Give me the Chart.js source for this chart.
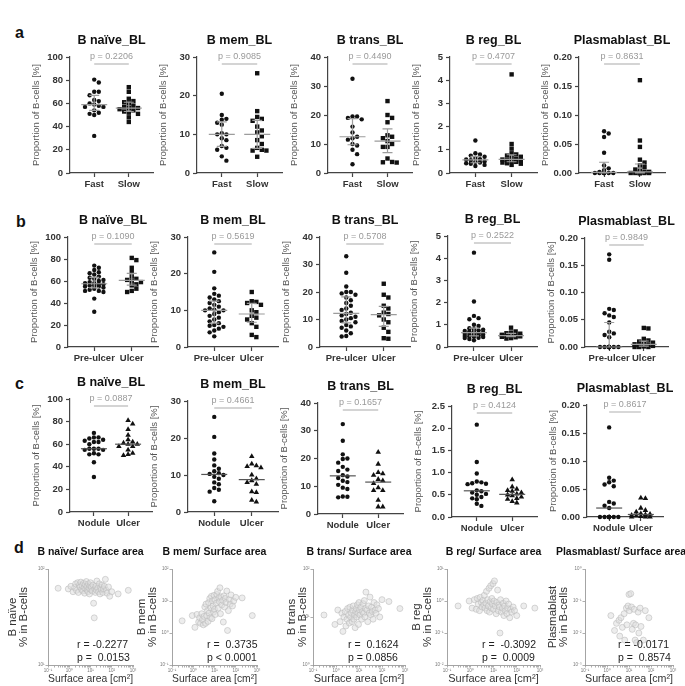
<!DOCTYPE html>
<html>
<head>
<meta charset="utf-8">
<script src="https://cdn.jsdelivr.net/npm/chart.js@4.4.1/dist/chart.umd.min.js"></script>
<style>
  body { margin: 0; width: 685px; height: 686px; background: #fff; position: relative; overflow: hidden; }
  canvas { position: absolute; }
  .tag { position: absolute; font: bold 16px "Liberation Sans", Arial, sans-serif; line-height: 16px; color: #111; }
</style>
</head>
<body>
<div class="tag" style="left:15px;top:25px">a</div>
<div class="tag" style="left:16px;top:214px">b</div>
<div class="tag" style="left:15px;top:376px">c</div>
<div class="tag" style="left:14px;top:540px">d</div>
<script>
// ---- data: rows a-c (proportion of B-cells, %) ----
const catsA = ["Fast", "Slow"];
const catsB = ["Pre-ulcer", "Ulcer"];
const catsC = ["Nodule", "Ulcer"];
const panelTitles = ["B naïve_BL", "B mem_BL", "B trans_BL", "B reg_BL", "Plasmablast_BL"];

const aNaiveFast = [80.5, 78, 70, 70, 67, 63, 62, 60, 59, 58, 57, 57, 54, 52, 51, 50, 32];
const aNaiveSlow = [74, 70, 64, 62, 61, 60, 58, 57, 56, 56, 55, 54, 53, 52, 51, 48, 44];
const aMemFast = [20.5, 15, 14, 13.8, 13, 12.5, 10.3, 10, 10, 9, 8.5, 7, 6.5, 6, 4.3, 3.2];
const aMemSlow = [25.8, 16, 14.5, 14, 13.5, 12, 11, 10.5, 9.5, 8.5, 7.5, 6.5, 6, 5.8, 5.8, 4.2];
const aTransFast = [32.5, 19.5, 19.5, 19, 18.5, 16, 14, 12.5, 12, 11.5, 10, 9.5, 8, 6.5, 3];
const aTransSlow = [24.8, 20, 19, 17.5, 13, 12.5, 12, 11, 10, 9, 9, 5, 3.8, 3.7, 3.6];
const aRegFast = [1.4, 0.85, 0.8, 0.75, 0.7, 0.65, 0.6, 0.58, 0.55, 0.5, 0.48, 0.45, 0.42, 0.4, 0.35, 0.3];
const aRegSlow = [4.25, 1.25, 1.05, 0.85, 0.8, 0.75, 0.7, 0.65, 0.6, 0.58, 0.55, 0.55, 0.5, 0.48, 0.45, 0.42, 0.4, 0.35];
const aPlasmaFast = [0.072, 0.068, 0.062, 0.035, 0.013, 0.008, 0.005, 0.002, 0, 0, 0, 0, 0, 0, 0, 0];
const aPlasmaSlow = [0.16, 0.056, 0.045, 0.023, 0.018, 0.013, 0.01, 0.006, 0.004, 0.002, 0.002, 0, 0, 0, 0, 0, 0, 0, 0];

const bNaivePre = [74, 72, 70, 68, 67, 66, 64, 63, 62, 61, 60, 59, 58, 58, 57, 57, 56, 56, 55, 55, 54, 53, 52, 51, 51, 50, 44, 32];
const bNaiveUlcer = [81, 79, 72, 68, 64, 62, 61, 60, 59, 57, 56, 53, 51, 50];
const bMemPre = [25.8, 20.5, 16, 14.5, 14, 13.5, 13, 12.5, 12, 11.5, 11, 10.5, 10.2, 10, 10, 9.5, 9, 8.5, 8, 7.5, 7, 6.5, 6, 5.8, 5.5, 5, 4.5, 4, 2.9];
const bMemUlcer = [15, 12.5, 12.3, 12, 11.5, 10, 9.5, 8.5, 8, 7.5, 6.5, 5.5, 3.3, 2.7];
const bTransPre = [33, 27, 22, 20, 20, 19.5, 19, 18, 17, 16, 15, 14, 13.5, 12.5, 12, 11.5, 11, 10.5, 10, 9.5, 9, 8, 7.5, 7, 6, 5, 4, 3.8];
const bTransUlcer = [23, 19, 18, 15, 14, 12.5, 12, 11.5, 10, 9, 7, 5.5, 3.2, 3];
const bRegPre = [4.25, 2.05, 1.4, 1.3, 1.25, 1.0, 0.95, 0.85, 0.8, 0.78, 0.75, 0.72, 0.7, 0.68, 0.65, 0.62, 0.6, 0.58, 0.56, 0.55, 0.53, 0.5, 0.48, 0.46, 0.45, 0.42, 0.4, 0.36, 0.3];
const bRegUlcer = [0.87, 0.7, 0.65, 0.62, 0.6, 0.55, 0.52, 0.5, 0.5, 0.48, 0.46, 0.44, 0.4, 0.38];
const bPlasmaPre = [0.17, 0.16, 0.07, 0.068, 0.062, 0.058, 0.055, 0.045, 0.028, 0.025, 0.022, 0.018, 0, 0, 0, 0, 0, 0, 0, 0, 0, 0, 0, 0, 0, 0, 0, 0, 0];
const bPlasmaUlcer = [0.035, 0.034, 0.015, 0.012, 0.01, 0.008, 0.006, 0.005, 0.004, 0.003, 0.002, 0.001, 0, 0, 0];

const cNaiveNodule = [70, 66, 66, 65, 64, 63, 62, 62, 60, 56, 56, 56, 55, 55, 52, 51, 51, 44, 31];
const cNaiveUlcer = [81, 78, 73, 68, 64, 62, 61, 60, 60, 58, 58, 55, 52, 51, 50];
const cMemNodule = [25.7, 20.3, 15.8, 14.2, 12.6, 11.7, 11, 10.5, 10.3, 10, 9.5, 9, 8, 7.5, 6.5, 6, 5.5, 2.9];
const cMemUlcer = [15, 13, 12.5, 12.3, 12, 10, 9, 8.5, 8, 7.5, 5.5, 5.3, 3.2, 2.7];
const cTransNodule = [32.4, 26.4, 21.5, 20, 19.8, 18.5, 17, 16, 15.5, 14, 13.5, 13, 12, 11.5, 10.5, 9.5, 9, 6.3, 6.2, 6];
const cTransUlcer = [22.3, 18, 15, 14.5, 14, 12.5, 12, 11, 9.5, 8.5, 8.5, 5, 2.6, 2.6];
const cRegNodule = [2.08, 1.24, 0.98, 0.8, 0.78, 0.76, 0.75, 0.74, 0.6, 0.58, 0.55, 0.52, 0.5, 0.45, 0.42, 0.4, 0.3, 0.25];
const cRegUlcer = [0.84, 0.68, 0.63, 0.6, 0.58, 0.55, 0.52, 0.5, 0.48, 0.45, 0.42, 0.4, 0.35, 0.32];
const cPlasmaNodule = [0.16, 0.07, 0.065, 0.062, 0.058, 0.055, 0.027, 0.024, 0.02, 0.016, 0, 0, 0, 0, 0, 0, 0, 0, 0];
const cPlasmaUlcer = [0.034, 0.033, 0.016, 0.012, 0.009, 0.006, 0.005, 0.004, 0.003, 0.002, 0.001, 0, 0, 0];

const pValuesA = ["0.2206", "0.9085", "0.4490", "0.4707", "0.8631"];
const pValuesB = ["0.1090", "0.5619", "0.5708", "0.2522", "0.9849"];
const pValuesC = ["0.0887", "0.4661", "0.1657", "0.4124", "0.8617"];

// ---- data: row d (surface area vs proportion) ----
const surfaceArea = [0.3, 0.9, 1.2, 1.5, 1.8, 2.0, 2.2, 2.5, 2.7, 3.0, 3.2, 3.5, 3.8, 4.0, 4.3, 4.7, 5.0, 5.3, 5.6, 6.0,
  6.4, 6.8, 7.2, 7.6, 8.0, 8.5, 9.0, 9.5, 10, 10.5, 11, 12, 13, 14, 15, 16, 17, 18, 19, 20,
  22, 24, 26, 28, 30, 32, 35, 38, 41, 45, 50, 55, 60, 70, 80, 100, 200, 600];
const dNaive = [63, 62, 66, 58, 64, 70, 60, 72, 57, 68, 65, 73, 61, 67, 59, 71, 64, 56, 69, 62,
  74, 66, 60, 58, 70, 63, 55, 67, 72, 61, 65, 59, 68, 44, 31, 62, 57, 66, 60, 75,
  63, 58, 70, 55, 64, 61, 68, 57, 62, 66, 78, 60, 56, 65, 52, 58, 55, 60];
const dMem = [2.4, 3.5, 1.5, 3.8, 2.2, 3.0, 2.0, 4.0, 2.6, 1.8, 3.3, 6.5, 2.0, 8.0, 3.5, 5.0, 2.3, 9.0, 4.2, 12,
  3.0, 6.0, 14, 2.8, 10, 7.0, 4.5, 15, 5.5, 11, 3.8, 8.5, 16, 20, 6.0, 12.5, 9.5, 25.9, 4.0, 13.5,
  7.5, 10.5, 2.2, 14.5, 6.5, 12, 9, 20.5, 1.2, 5.0, 11, 8, 15.5, 7, 10, 13, 12.5, 3.5];
const dTrans = [11, 7, 14, 8, 12, 5, 10, 13, 6.5, 9, 15, 11, 7.5, 16, 10, 12, 8, 14, 17, 9,
  11, 6, 13, 15, 10, 18, 12, 7, 20, 14, 11, 16, 9, 13, 19, 12, 22, 10, 15, 33,
  14, 8, 17, 12, 26, 11, 16, 13, 9, 20, 14, 12, 18, 15, 10, 23, 21, 15];
const dReg = [0.7, 1.0, 0.6, 1.1, 0.55, 1.2, 0.8, 0.5, 1.3, 0.9, 0.65, 1.05, 0.75, 1.5, 0.6, 0.85, 2.0, 0.5, 1.1, 0.7,
  2.5, 0.45, 0.95, 3.0, 0.6, 1.2, 0.8, 3.5, 0.55, 1.0, 4.25, 0.7, 0.4, 0.9, 2.2, 0.5, 0.75, 0.65, 0.1, 1.1,
  0.45, 0.6, 0.85, 0.35, 0.7, 0.5, 1.0, 0.4, 0.6, 0.8, 0.3, 0.55, 0.45, 0.65, 0.5, 0.35, 0.7, 0.6];
const dPlasma = [0, 0, 0, 0.035, 0, 0, 0.012, 0, 0.02, 0, 0, 0.025, 0.008, 0, 0.03, 0, 0.015, 0, 0, 0.04,
  0.006, 0, 0, 0.06, 0.018, 0, 0.07, 0, 0.16, 0.05, 0, 0.17, 0.065, 0.013, 0, 0.02, 0.055, 0, 0.006, 0.018,
  0.005, 0, 0.045, 0.01, 0, 0.06, 0.016, 0, 0, 0.006, 0, 0.05, 0, 0, 0.03, 0, 0, 0];
const dTitles = ["B naïve/ Surface area", "B mem/ Surface area", "B trans/ Surface area", "B reg/ Surface area", "Plasmablast/ Surface area"];
const dYTitles = ["B naïve", "B mem", "B trans", "B reg", "Plasmablast"];
const corrR = ["-0.2277", " 0.3735", " 0.1624", " -0.3092", "-0.0171"];
const corrP = ["=  0.0153", "< 0.0001", "= 0.0856", "=  0.0009", "=  0.8574"];
const expLabels = { "-3": "10⁻³", "-2": "10⁻²", "-1": "10⁻¹", "0": "10⁰", "1": "10¹", "2": "10²", "3": "10³" };

// ---- layout (pixels) ----
const FONT = '"Liberation Sans", Arial, sans-serif';
Chart.defaults.font.family = FONT;

const xSpans = {
  a: [[70, 153], [197, 282], [328, 412], [450, 537], [579, 665]],
  b: [[68, 158], [188, 278], [320, 410], [448, 537], [585, 668]],
  c: [[70, 152], [188, 278], [318, 403], [452, 537], [587, 663]]
};
const ySpans = {
  a: [[57, 173], [57, 173], [57, 173], [57, 173], [57, 173]],
  b: [[237, 347], [237, 347], [237, 347], [236, 347], [238, 347]],
  c: [[399, 512], [401, 512], [403, 514], [406, 517], [405, 517]]
};
// [left, right, y-axis box width, y-title padding, title shift]
const dSpans = [[48, 133, 48, 8, 0], [172, 257, 36, 1, 0], [313, 405, 26, 0, 0], [447, 540, 36, 1, 0], [585, 673, 38, 1, -8]];
const dTop = 569, dBottom = 665;

function makeCanvas(left, top, w, h) {
  const c = document.createElement("canvas");
  c.width = w; c.height = h;
  c.style.left = left + "px"; c.style.top = top + "px";
  c.style.width = w + "px"; c.style.height = h + "px";
  document.body.appendChild(c);
  return c;
}

function quantile(sorted, q) {
  const pos = (sorted.length - 1) * q;
  const lo = Math.floor(pos), hi = Math.ceil(pos);
  return sorted[lo] + (sorted[hi] - sorted[lo]) * (pos - lo);
}

// simple beeswarm: spread points sideways so they don't overlap
function swarm(values, center, pxX, pxY, step, maxHalf) {
  const placed = [];
  const out = new Array(values.length);
  const order = values.map((v, i) => i).sort((p, q) => values[q] - values[p]);
  const k = Math.floor(maxHalf / step);
  order.forEach(i => {
    const py = values[i] * pxY;
    let best = 0, bestD = -1;
    for (let j = 0; j <= 2 * k; j++) {
      const off = (j % 2 ? 1 : -1) * Math.ceil(j / 2) * step;
      let dmin = Infinity;
      placed.forEach(p => {
        const d = Math.hypot(p.ox - off, p.py - py);
        if (d < dmin) dmin = d;
      });
      if (dmin >= step * 0.95) { best = off; break; }
      if (dmin > bestD) { bestD = dmin; best = off; }
    }
    placed.push({ ox: best, py });
    out[i] = { x: center + best / pxX, y: values[i] };
  });
  return out;
}

const dotExtras = {
  id: "dotExtras",
  afterDatasetsDraw(chart, args, opt) {
    const { ctx, chartArea: a, scales: { x, y } } = chart;
    ctx.save();
    opt.groups.forEach((vals, i) => {
      const s = vals.slice().sort((p, q) => p - q);
      const cx = x.getPixelForValue(i + 1);
      const ym = y.getPixelForValue(quantile(s, 0.5));
      ctx.strokeStyle = opt.iqr ? "#9c9c9c" : "#555";
      ctx.lineWidth = 1.2;
      ctx.beginPath();
      ctx.moveTo(cx - 13, ym); ctx.lineTo(cx + 13, ym);
      if (opt.iqr) {
        const y1 = y.getPixelForValue(quantile(s, 0.25));
        const y3 = y.getPixelForValue(quantile(s, 0.75));
        ctx.moveTo(cx, y1); ctx.lineTo(cx, y3);
        ctx.moveTo(cx - 5, y1); ctx.lineTo(cx + 5, y1);
        ctx.moveTo(cx - 5, y3); ctx.lineTo(cx + 5, y3);
      }
      ctx.stroke();
    });
    // p-value bracket
    const x1 = x.getPixelForValue(1), x2 = x.getPixelForValue(2);
    ctx.strokeStyle = "#c6c6c6";
    ctx.lineWidth = 1.4;
    ctx.beginPath();
    ctx.moveTo(x1, a.top + 7); ctx.lineTo(x2, a.top + 7);
    ctx.stroke();
    ctx.textAlign = "center";
    ctx.textBaseline = "middle";
    ctx.fillStyle = "#999";
    ctx.font = "9px " + FONT;
    ctx.fillText("p = " + opt.p, (x1 + x2) / 2, a.top);
    // panel title
    ctx.fillStyle = "#111";
    ctx.font = "bold 12.5px " + FONT;
    ctx.fillText(opt.title, (a.left + a.right) / 2, a.top - 16);
    ctx.restore();
  }
};

function dotChart(o) {
  const padL = 42, padT = 30, padR = 10, padB = 20;
  const w = o.R - o.L + padL + padR, h = o.B - o.T + padT + padB;
  const cv = makeCanvas(o.L - padL, o.T - padT, w, h);
  const xMin = 0.3, xMax = 2.7;
  const pxX = (o.R - o.L) / (xMax - xMin), pxY = (o.B - o.T) / o.yMax;
  const shapes = ["circle", o.shape];
  const datasets = o.groups.map((vals, i) => ({
    data: swarm(vals, i + 1, pxX, pxY, 4.6, 12),
    pointStyle: shapes[i],
    pointRadius: i === 0 ? 2.2 : (o.shape === "rect" ? 3.1 : 3.2),
    backgroundColor: "#111",
    borderWidth: 0,
    showLine: false,
    clip: false
  }));
  const axisGrid = { drawOnChartArea: false, tickLength: 4, color: "#444", tickWidth: 1.2 };
  new Chart(cv, {
    type: "scatter",
    data: { datasets },
    options: {
      responsive: false,
      animation: false,
      events: [],
      layout: { padding: { left: 0, top: padT, right: padR, bottom: 0 }, autoPadding: false },
      plugins: {
        legend: { display: false },
        tooltip: { enabled: false },
        dotExtras: { groups: o.groups, p: o.p, title: o.title, iqr: o.iqr }
      },
      scales: {
        x: {
          type: "linear", min: xMin, max: xMax,
          afterFit(s) { s.height = padB; },
          afterBuildTicks(s) { s.ticks = [{ value: 1 }, { value: 2 }]; },
          ticks: {
            callback: v => o.cats[v - 1],
            font: { size: 9.5, weight: "bold" }, color: "#333",
            padding: 2, maxRotation: 0, autoSkip: false
          },
          grid: axisGrid,
          border: { color: "#444", width: 1.2 }
        },
        y: {
          min: 0, max: o.yMax,
          afterFit(s) { s.width = padL; },
          ticks: {
            stepSize: o.yStep,
            callback: v => v.toFixed(o.dec),
            font: { size: 9.5, weight: "bold" }, color: "#333", padding: 3
          },
          grid: axisGrid,
          border: { color: "#444", width: 1.2 },
          title: {
            display: true, text: "Proportion of B-cells [%]",
            font: { size: 9.5 }, color: "#555", padding: { top: 3, bottom: 0 }
          }
        }
      }
    },
    plugins: [dotExtras]
  });
}

const corrExtras = {
  id: "corrExtras",
  afterDatasetsDraw(chart, args, opt) {
    const { ctx, chartArea: a } = chart;
    ctx.save();
    ctx.fillStyle = "#111";
    ctx.textAlign = "center";
    ctx.textBaseline = "middle";
    ctx.font = "bold 10.5px " + FONT;
    ctx.fillText(opt.title, (a.left + a.right) / 2 + opt.dx, a.top - 17);
    ctx.textAlign = "left";
    ctx.fillStyle = "#222";
    ctx.font = "10.5px " + FONT;
    ctx.fillText("r = " + opt.r, a.left + opt.tx, a.bottom - 20);
    ctx.fillText("p " + opt.p, a.left + opt.tx, a.bottom - 7);
    ctx.restore();
  }
};

function decadeLabel(v) {
  const e = Math.log10(v);
  return Math.abs(e - Math.round(e)) < 1e-6 ? expLabels[String(Math.round(e))] : "";
}

function corrChart(i, ys, yMin, yMax, tx) {
  const [L, R, padL, tPad, dx] = dSpans[i];
  const padT = 26, padR = 40, padB = 21;
  const w = R - L + padL + padR, h = dBottom - dTop + padT + padB;
  const cv = makeCanvas(L - padL, dTop - padT, w, h);
  const pts = surfaceArea.map((x, k) => ({ x, y: ys[k] })).filter(p => p.y > 0);
  const xTicks = [];
  for (let e = -1; e <= 2; e++) for (let m = 1; m <= 9; m++) xTicks.push({ value: Number((m * Math.pow(10, e)).toPrecision(3)) });
  xTicks.push({ value: 1000 });
  const yTicks = [];
  for (let e = Math.round(Math.log10(yMin)); e <= Math.round(Math.log10(yMax)); e++) yTicks.push({ value: Math.pow(10, e) });
  const thin = { drawOnChartArea: false, tickLength: 2.5, color: "#9a9a9a", tickWidth: 0.8 };
  new Chart(cv, {
    type: "scatter",
    data: {
      datasets: [{
        data: pts, pointStyle: "circle", pointRadius: 3,
        backgroundColor: "rgba(222,222,222,0.55)", borderColor: "rgba(185,185,185,0.7)",
        borderWidth: 0.8, clip: false
      }]
    },
    options: {
      responsive: false,
      animation: false,
      events: [],
      layout: { padding: { left: 0, top: padT, right: padR, bottom: 0 }, autoPadding: false },
      plugins: {
        legend: { display: false },
        tooltip: { enabled: false },
        corrExtras: { title: dTitles[i], r: corrR[i], p: corrP[i], tx, dx }
      },
      scales: {
        x: {
          type: "logarithmic", min: 0.1, max: 1000,
          afterFit(s) { s.height = padB; },
          afterBuildTicks(s) { s.ticks = xTicks; },
          ticks: { callback: v => decadeLabel(v), font: { size: 4.5 }, color: "#777", padding: 1, autoSkip: false, maxRotation: 0 },
          grid: thin,
          border: { color: "#9a9a9a", width: 0.9 },
          title: { display: true, text: "Surface area [cm²]", font: { size: 11 }, color: "#333", padding: { top: 0, bottom: 0 } }
        },
        y: {
          type: "logarithmic", min: yMin, max: yMax,
          afterFit(s) { s.width = padL; },
          afterBuildTicks(s) { s.ticks = yTicks; },
          ticks: { callback: v => decadeLabel(v), font: { size: 4.5 }, color: "#777", padding: 1, autoSkip: false },
          grid: thin,
          border: { color: "#9a9a9a", width: 0.9 },
          title: {
            display: true, text: [dYTitles[i], "% in B-cells"],
            font: { size: 11.5, lineHeight: 0.9 }, color: "#333", padding: { top: tPad, bottom: 0 }
          }
        }
      }
    },
    plugins: [corrExtras]
  });
}

// ---- build rows a-c ----
const yMaxes = [100, 30, 40, 5, 0.2];
const ySteps = [20, 10, 10, 1, 0.05];
const yDecs = [0, 0, 0, 0, 2];
const rows = [
  { key: "a", cats: catsA, p: pValuesA, shape: "rect", iqr: true,
    groups: [[aNaiveFast, aNaiveSlow], [aMemFast, aMemSlow], [aTransFast, aTransSlow], [aRegFast, aRegSlow], [aPlasmaFast, aPlasmaSlow]] },
  { key: "b", cats: catsB, p: pValuesB, shape: "rect", iqr: true,
    groups: [[bNaivePre, bNaiveUlcer], [bMemPre, bMemUlcer], [bTransPre, bTransUlcer], [bRegPre, bRegUlcer], [bPlasmaPre, bPlasmaUlcer]] },
  { key: "c", cats: catsC, p: pValuesC, shape: "triangle", iqr: false,
    groups: [[cNaiveNodule, cNaiveUlcer], [cMemNodule, cMemUlcer], [cTransNodule, cTransUlcer], [cRegNodule, cRegUlcer], [cPlasmaNodule, cPlasmaUlcer]] }
];

rows.forEach(row => {
  row.groups.forEach((groups, i) => {
    const regC = row.key === "c" && i === 3;
    dotChart({
      L: xSpans[row.key][i][0], R: xSpans[row.key][i][1],
      T: ySpans[row.key][i][0], B: ySpans[row.key][i][1],
      groups, cats: row.cats, p: row.p[i], title: panelTitles[i],
      shape: row.shape, iqr: row.iqr,
      yMax: regC ? 2.5 : yMaxes[i], yStep: regC ? 0.5 : ySteps[i], dec: regC ? 1 : yDecs[i]
    });
  });
});

// ---- row d ----
corrChart(0, dNaive, 10, 100, 29);
corrChart(1, dMem, 0.1, 100, 35);
corrChart(2, dTrans, 1, 100, 35);
corrChart(3, dReg, 0.01, 10, 35);
corrChart(4, dPlasma, 0.001, 1, 33);
</script>
</body>
</html>
